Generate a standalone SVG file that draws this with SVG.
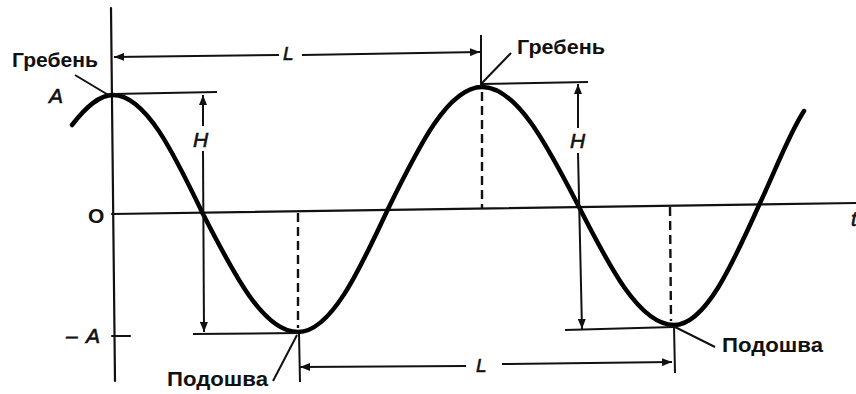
<svg xmlns="http://www.w3.org/2000/svg" width="856" height="394" viewBox="0 0 856 394">
<style>
.ax{stroke:#111;stroke-width:2.2;fill:none;stroke-linecap:round}
.dim{stroke:#111;stroke-width:2;fill:none}
.dash{stroke:#111;stroke-width:2.4;fill:none;stroke-dasharray:9 5}
.wave{stroke:#000;stroke-width:4.5;fill:none;stroke-linecap:round;stroke-linejoin:round}
.lbl{font-family:"Liberation Sans",Arial,sans-serif;font-weight:bold;font-size:20px;fill:#111}
.it{font-family:"Liberation Sans",Arial,sans-serif;font-style:italic;font-size:21px;fill:#111;stroke:#111;stroke-width:0.6}
.up{font-family:"Liberation Sans",Arial,sans-serif;font-weight:bold;font-size:21px;fill:#111}
</style>
<defs>
<marker id="arr" markerUnits="userSpaceOnUse" markerWidth="11" markerHeight="8" refX="10" refY="4" orient="auto-start-reverse">
<path d="M0,0 L10,4 L0,8 z" fill="#111"/>
</marker>
</defs>
<rect width="856" height="394" fill="#fff"/>
<g id="axes">
<line class="ax" x1="111" y1="8" x2="115" y2="381"/>
<line class="ax" x1="112" y1="214" x2="856" y2="203"/>
<line class="ax" x1="112" y1="336" x2="130" y2="336"/>
</g>
<g id="wave">
<path class="wave" d="M72,125 C86,107 99,95 113,95 C145.6,95 173.7,153 203,214 C234,274.5 263.6,332 298,332 C330.6,332 358.7,272 388,209 C418.7,146.5 448,87 482,87 C516.7,87 546.7,144.5 578,205 C609.3,266.5 639.3,325 674,325 C705.1,325 732,265.5 760,203 C774.7,172 789.3,133.3 804,111"/>
</g>
<g id="connectors">
<line class="dim" x1="114" y1="57" x2="279" y2="55" marker-start="url(#arr)"/>
<line class="dim" x1="302" y1="55" x2="480" y2="52" marker-end="url(#arr)"/>
<line class="dim" x1="481" y1="35" x2="481" y2="87"/>
<line class="dash" x1="482" y1="92" x2="482" y2="208"/>
<line class="dim" x1="113" y1="94" x2="217" y2="92"/>
<line class="dim" x1="203" y1="126" x2="203" y2="95" marker-end="url(#arr)"/>
<line class="dim" x1="203" y1="151" x2="204" y2="332" marker-end="url(#arr)"/>
<line class="dim" x1="193" y1="334" x2="298" y2="333"/>
<line class="dash" x1="298" y1="213" x2="298" y2="328"/>
<line class="dim" x1="299" y1="333" x2="300" y2="382"/>
<line class="dim" x1="300" y1="367" x2="466" y2="366" marker-start="url(#arr)"/>
<line class="dim" x1="502" y1="364" x2="672" y2="362" marker-end="url(#arr)"/>
<line class="dim" x1="482" y1="84" x2="588" y2="82"/>
<line class="dim" x1="578" y1="128" x2="578" y2="84" marker-end="url(#arr)"/>
<line class="dim" x1="578" y1="153" x2="582" y2="329" marker-end="url(#arr)"/>
<line class="dim" x1="565" y1="330" x2="674" y2="327"/>
<line class="dash" x1="670" y1="207" x2="671" y2="321"/>
<line class="dim" x1="674" y1="326" x2="675" y2="373"/>
<line class="dim" x1="75" y1="75" x2="110" y2="96"/>
<line class="dim" x1="482" y1="83" x2="511" y2="53"/>
<line class="dim" x1="297" y1="335" x2="273" y2="381"/>
<line class="dim" x1="675" y1="327" x2="715" y2="347"/>
</g>
<g id="labels">
<text class="lbl" x="12" y="67" textLength="86" lengthAdjust="spacingAndGlyphs">Гребень</text>
<text class="lbl" x="517" y="54" textLength="88" lengthAdjust="spacingAndGlyphs">Гребень</text>
<text class="lbl" x="167" y="386" textLength="101" lengthAdjust="spacingAndGlyphs">Подошва</text>
<text class="lbl" x="722" y="352" textLength="101" lengthAdjust="spacingAndGlyphs">Подошва</text>
<text class="it" x="49" y="103">A</text>
<text class="it" x="66" y="343">–</text>
<text class="it" x="86" y="343">A</text>
<text class="up" x="88" y="223">O</text>
<text class="it" x="193" y="147">H</text>
<text class="it" x="570" y="148">H</text>
<text class="it" x="283" y="60" style="font-size:19px">L</text>
<text class="it" x="476" y="372" style="font-size:19px">L</text>
<text class="it" x="851" y="226">t</text>
</g>
</svg>
